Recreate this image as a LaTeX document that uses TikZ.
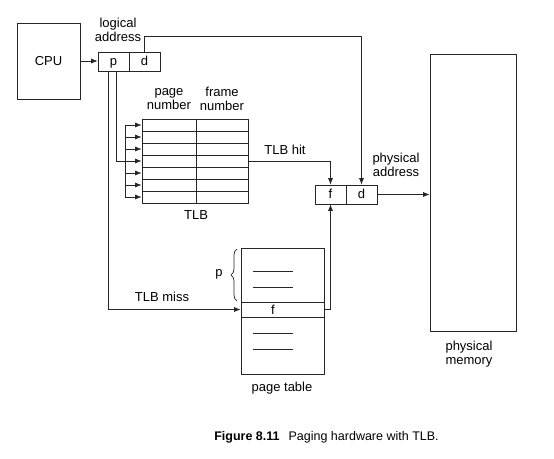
\documentclass[tikz,border=0pt]{standalone}
\usepackage{fontspec}
\setmainfont{Liberation Sans}
\usetikzlibrary{arrows.meta,decorations.pathreplacing}
\begin{document}
\begin{tikzpicture}[x=1pt,y=-1pt,
  every node/.style={font=\fontsize{13}{14}\selectfont},
  ln/.style={line width=0.7pt,draw=black!85},
  arr/.style={ln,-{Latex[length=6.5pt,width=5pt]}},
  cell/.style={ln,draw,rectangle,inner sep=0pt,minimum height=19pt,minimum width=31pt,text height=9.5pt,text depth=2.5pt},
  tl/.style={ln,draw,rectangle,inner sep=0pt,minimum height=12pt},
  lbl/.style={align=center,inner sep=0pt}]
\useasboundingbox (0,0) rectangle (554,458);
% CPU
\node[ln,draw,rectangle,minimum width=63pt,minimum height=76pt,inner sep=0pt] (cpu) at (48.5,61) {CPU};
% logical address
\node[cell] (p) at (113.5,61.5) {p};
\node[cell] (d) at (144.5,61.5) {d};
\node[lbl] (la) at (118,30) {logical\\address};
\draw[arr] (cpu.east) -- (cpu.east -| p.west);
% TLB
\foreach \i in {1,...,7}{
  \node[tl,minimum width=54pt] (tlbL\i) at (169,125+12*\i-12) {};
  \node[tl,minimum width=52pt] (tlbR\i) at (222,125+12*\i-12) {};
}
\node[lbl] (pn) at (169,99) {page\\number};
\node[lbl] (fn) at (222,99) {frame\\number};
\node[lbl] (tlb) at (196,215) {TLB};
\coordinate (bus) at (125,0);
\draw[ln] (bus |- tlbL1.west) -- (bus |- tlbL7.west);
\foreach \i in {1,...,7}{
  \draw[arr] (bus |- tlbL\i.west) -- (tlbL\i.west);
}
\draw[ln] ([xshift=2.5pt]p.south) |- (bus |- tlbL4.west);
% physical address
\node[cell] (pf) at (330.5,194.5) {f};
\node[cell] (pd) at (361.5,194.5) {d};
\node[lbl] (pa) at (396,165) {physical\\address};
\coordinate (tr) at (361.5,36);
\draw[arr] (d.north) |- (tr) -- (pd.north);
\draw[arr] (tlbR4.east) -| (pf.north);
\node[lbl] (hit) at (285,150) {TLB hit};
% physical memory
\node[ln,draw,rectangle,minimum width=86pt,minimum height=277pt,inner sep=0pt] (mem) at (473,192.5) {};
\node[lbl] (pm) at (469,354) {physical\\memory};
\draw[arr] (pd.east) -- (pd.east -| mem.west);
% page table
\node[ln,draw,rectangle,minimum width=83pt,minimum height=54pt,inner sep=0pt] (pt1) at (282.5,275) {};
\node[ln,draw,rectangle,minimum width=83pt,minimum height=15pt,inner sep=0pt] (ptf) at (282.5,309.5) {};
\node[ln,draw,rectangle,minimum width=83pt,minimum height=57pt,inner sep=0pt] (pt2) at (282.5,345.5) {};
\node[inner sep=0pt] (fl) at (273,309.5) {f};
\foreach \yy in {271,287,333,349}{
  \draw[ln] (253,\yy) -- (293,\yy);
}
\draw[ln,decorate,decoration={brace,amplitude=6pt}] (237,301) -- (237,249);
\node[inner sep=0pt] (pl) at (219,274) {p};
\node[lbl] (ptl) at (282,388) {page table};
\draw[arr] ([xshift=-5.5pt]p.south) |- (ptf.west);
\node[lbl] (miss) at (162,297) {TLB miss};
\draw[arr] (ptf.east) -| (pf.south);
% caption
\node[lbl,font=\fontsize{12.5}{14}\selectfont] (cap) at (326.5,437) {\textbf{Figure 8.11}\hspace{9pt}Paging hardware with TLB.};
\end{tikzpicture}
\end{document}
